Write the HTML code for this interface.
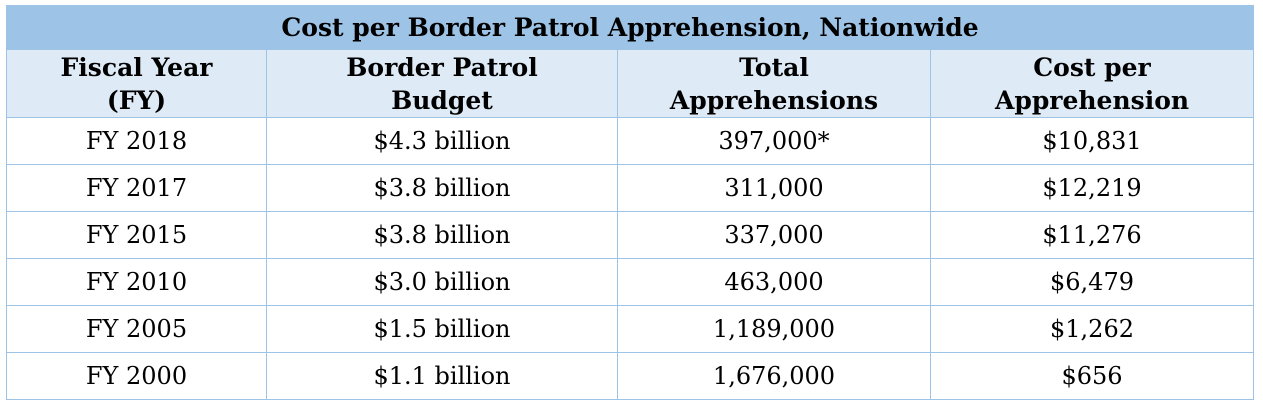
<!DOCTYPE html>
<html><head><meta charset="utf-8"><style>
body{margin:0;width:1263px;height:406px;background:#fff;font-family:"DejaVu Serif","Liberation Serif",serif;overflow:hidden}
table{position:absolute;left:6px;top:5px;width:1247px;border-collapse:collapse;table-layout:fixed}
td,th{border:1.5px solid #9dc3e6;text-align:center;padding:0;color:#000;white-space:nowrap}
.t{background:#9dc3e6;height:43px;font-size:25px;font-weight:bold}
.h th{background:#deeaf6;height:67px;font-size:25px;line-height:33px;font-weight:bold}
.r td{height:46px;font-size:24px}
</style></head><body>
<table>
<colgroup><col style="width:260px"><col style="width:351px"><col style="width:313px"><col style="width:323px"></colgroup>
<tr><td class="t" colspan="4">Cost per Border Patrol Apprehension, Nationwide</td></tr>
<tr class="h">
<th>Fiscal Year<br>(FY)</th>
<th>Border Patrol<br>Budget</th>
<th>Total<br>Apprehensions</th>
<th>Cost per<br>Apprehension</th></tr>
<tr class="r"><td>FY 2018</td><td>$4.3 billion</td><td>397,000*</td><td>$10,831</td></tr>
<tr class="r"><td>FY 2017</td><td>$3.8 billion</td><td>311,000</td><td>$12,219</td></tr>
<tr class="r"><td>FY 2015</td><td>$3.8 billion</td><td>337,000</td><td>$11,276</td></tr>
<tr class="r"><td>FY 2010</td><td>$3.0 billion</td><td>463,000</td><td>$6,479</td></tr>
<tr class="r"><td>FY 2005</td><td>$1.5 billion</td><td>1,189,000</td><td>$1,262</td></tr>
<tr class="r"><td>FY 2000</td><td>$1.1 billion</td><td>1,676,000</td><td>$656</td></tr>
</table>
</body></html>
